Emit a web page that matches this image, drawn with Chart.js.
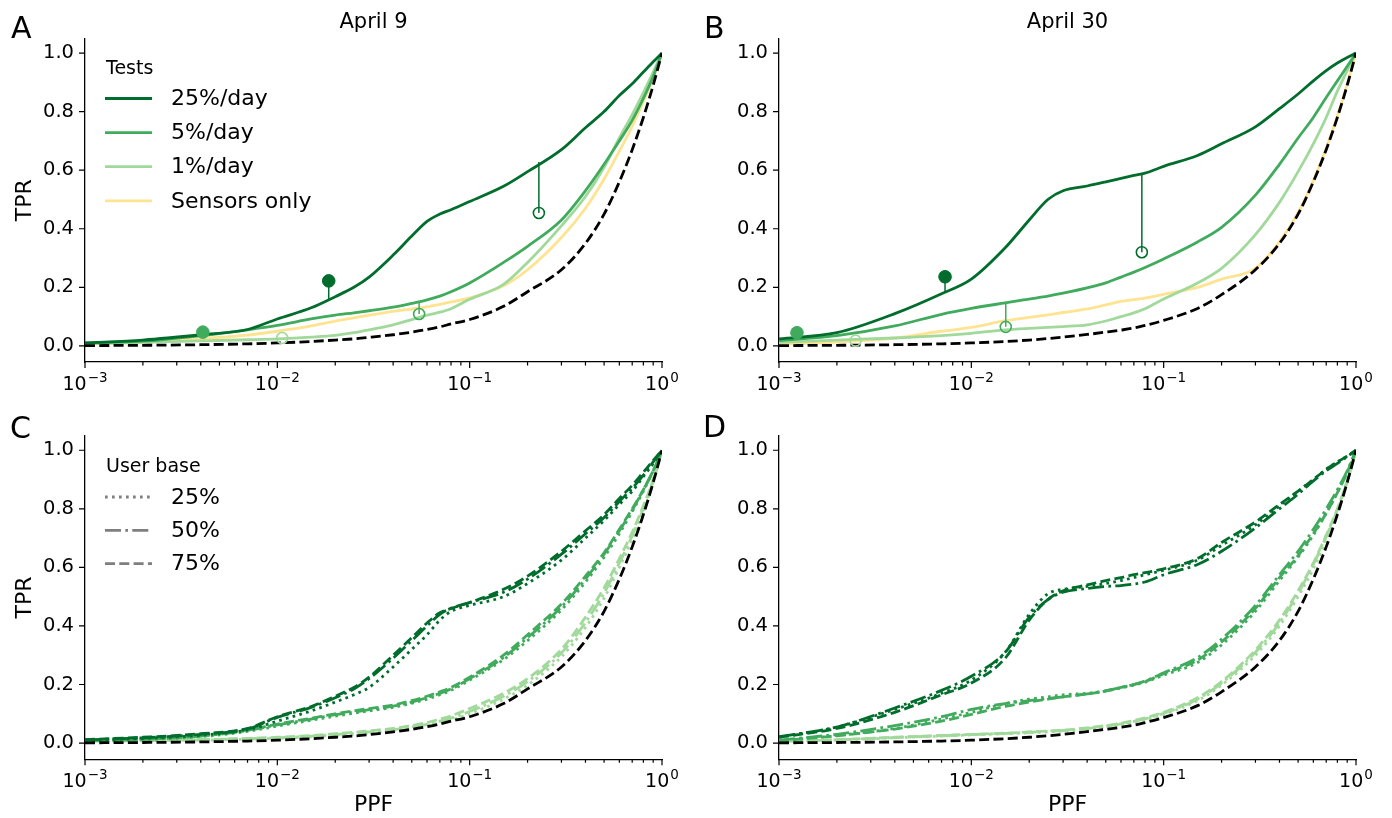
<!DOCTYPE html>
<html>
<head>
<meta charset="utf-8">
<script src="https://cdn.jsdelivr.net/npm/chart.js@4.4.1/dist/chart.umd.min.js"></script>
<style>
  body { margin: 0; background: #fff; width: 1392px; height: 818px; position: relative; overflow: hidden; }
  canvas { position: absolute; }
</style>
</head>
<body>
<canvas id="panelA" width="696" height="409" style="left:0;top:0"></canvas>
<canvas id="panelB" width="696" height="409" style="left:696px;top:0"></canvas>
<canvas id="panelC" width="696" height="409" style="left:0;top:409px"></canvas>
<canvas id="panelD" width="696" height="409" style="left:696px;top:409px"></canvas>
<script>
var ppf = [0.001, 0.002, 0.004, 0.007, 0.01, 0.015, 0.02, 0.025, 0.03, 0.04, 0.05, 0.06, 0.07, 0.08, 0.1, 0.15, 0.2, 0.3, 0.4, 0.5, 0.6, 0.7, 0.8, 0.9, 1.0];

// tick labels
var xMajor = [0.001, 0.01, 0.1, 1];
var xTickBase = '10';
var xTickExp = ['\u22123', '\u22122', '\u22121', '0'];
var xMinorSteps = [2, 3, 4, 5, 6, 7, 8, 9];
var yTicks = [0, 0.2, 0.4, 0.6, 0.8, 1.0];
var panelTitles = ['April 9', 'April 30'];
var testLabels = ['25%/day', '5%/day', '1%/day', 'Sensors only'];
var userBaseLabels = ['25%', '50%', '75%'];

// Panel A - April 9
var a25   = [0.010, 0.020, 0.038, 0.056, 0.092, 0.130, 0.168, 0.200, 0.235, 0.310, 0.375, 0.425, 0.450, 0.465, 0.493, 0.545, 0.595, 0.670, 0.745, 0.800, 0.855, 0.895, 0.935, 0.970, 1.0];
var a5    = [0.010, 0.016, 0.035, 0.055, 0.070, 0.092, 0.105, 0.113, 0.120, 0.132, 0.145, 0.157, 0.170, 0.185, 0.215, 0.285, 0.340, 0.430, 0.530, 0.620, 0.700, 0.770, 0.845, 0.920, 1.0];
var a1    = [0.008, 0.012, 0.017, 0.021, 0.024, 0.030, 0.036, 0.045, 0.055, 0.072, 0.090, 0.105, 0.115, 0.127, 0.159, 0.210, 0.285, 0.410, 0.510, 0.610, 0.710, 0.790, 0.865, 0.935, 1.0];
var aSens = [0.006, 0.012, 0.025, 0.037, 0.050, 0.068, 0.085, 0.096, 0.105, 0.118, 0.126, 0.133, 0.142, 0.150, 0.164, 0.205, 0.260, 0.370, 0.470, 0.570, 0.665, 0.750, 0.835, 0.915, 1.0];
var aRand = [0.001, 0.002, 0.004, 0.007, 0.010, 0.015, 0.020, 0.024, 0.029, 0.038, 0.047, 0.056, 0.065, 0.075, 0.090, 0.135, 0.185, 0.260, 0.350, 0.450, 0.560, 0.670, 0.780, 0.890, 1.0];
// markers: 25% filled, 5% filled, 25% open, 5% open, 1% open
var aMarkX    = [0.0185, 0.0041, 0.229, 0.0546, 0.0106];
var aMarkY    = [0.222, 0.047, 0.454, 0.109, 0.027];
var aMarkStem = [0.160, 0.036, 0.628, 0.150, 0.025];

// Panel B - April 30
var b25   = [0.024, 0.045, 0.110, 0.178, 0.228, 0.335, 0.430, 0.500, 0.530, 0.546, 0.560, 0.572, 0.582, 0.590, 0.613, 0.650, 0.690, 0.748, 0.810, 0.860, 0.905, 0.940, 0.966, 0.985, 1.0];
var b5    = [0.018, 0.035, 0.068, 0.108, 0.128, 0.147, 0.160, 0.170, 0.180, 0.198, 0.215, 0.235, 0.252, 0.268, 0.297, 0.355, 0.405, 0.515, 0.620, 0.710, 0.780, 0.848, 0.905, 0.955, 1.0];
var b1    = [0.012, 0.020, 0.027, 0.035, 0.043, 0.055, 0.060, 0.063, 0.066, 0.072, 0.085, 0.100, 0.113, 0.127, 0.160, 0.215, 0.265, 0.380, 0.490, 0.595, 0.690, 0.780, 0.870, 0.940, 1.0];
var bSens = [0.005, 0.013, 0.027, 0.050, 0.063, 0.086, 0.097, 0.106, 0.114, 0.126, 0.140, 0.152, 0.158, 0.163, 0.176, 0.200, 0.228, 0.265, 0.355, 0.455, 0.565, 0.675, 0.785, 0.893, 1.0];
var bRand = [0.001, 0.002, 0.004, 0.007, 0.010, 0.015, 0.020, 0.025, 0.030, 0.039, 0.047, 0.054, 0.061, 0.070, 0.087, 0.128, 0.175, 0.260, 0.350, 0.450, 0.560, 0.670, 0.780, 0.890, 1.0];
var bMarkX    = [0.0073, 0.00124, 0.077, 0.0151, 0.0025];
var bMarkY    = [0.236, 0.045, 0.320, 0.065, 0.018];
var bMarkStem = [0.183, 0.022, 0.588, 0.148, 0.021];

// Panel C - April 9, by user base
var cDark25  = [0.010, 0.016, 0.027, 0.045, 0.075, 0.110, 0.140, 0.165, 0.190, 0.260, 0.320, 0.370, 0.420, 0.450, 0.470, 0.500, 0.545, 0.625, 0.700, 0.760, 0.815, 0.860, 0.910, 0.955, 1.0];
var cDark50  = [0.011, 0.018, 0.030, 0.048, 0.088, 0.122, 0.155, 0.185, 0.220, 0.290, 0.350, 0.400, 0.440, 0.460, 0.480, 0.515, 0.560, 0.645, 0.715, 0.770, 0.825, 0.870, 0.915, 0.960, 1.0];
var cDark75  = [0.012, 0.020, 0.032, 0.050, 0.090, 0.125, 0.160, 0.190, 0.225, 0.300, 0.360, 0.410, 0.445, 0.460, 0.480, 0.525, 0.570, 0.655, 0.725, 0.780, 0.835, 0.880, 0.925, 0.965, 1.0];
var cMed25   = [0.008, 0.012, 0.022, 0.040, 0.058, 0.078, 0.092, 0.102, 0.110, 0.122, 0.136, 0.150, 0.165, 0.180, 0.215, 0.285, 0.350, 0.455, 0.550, 0.635, 0.715, 0.790, 0.860, 0.930, 1.0];
var cMed50   = [0.008, 0.013, 0.024, 0.043, 0.062, 0.082, 0.097, 0.106, 0.114, 0.126, 0.140, 0.155, 0.170, 0.185, 0.220, 0.292, 0.360, 0.465, 0.560, 0.645, 0.725, 0.795, 0.865, 0.930, 1.0];
var cMed75   = [0.008, 0.013, 0.025, 0.045, 0.065, 0.085, 0.100, 0.110, 0.118, 0.130, 0.145, 0.160, 0.175, 0.190, 0.225, 0.300, 0.370, 0.475, 0.570, 0.650, 0.730, 0.800, 0.865, 0.930, 1.0];
var cLight25 = [0.005, 0.008, 0.010, 0.013, 0.016, 0.021, 0.026, 0.030, 0.034, 0.042, 0.050, 0.059, 0.069, 0.078, 0.100, 0.150, 0.198, 0.295, 0.395, 0.495, 0.600, 0.695, 0.790, 0.890, 1.0];
var cLight50 = [0.006, 0.008, 0.011, 0.015, 0.018, 0.024, 0.029, 0.034, 0.038, 0.046, 0.055, 0.064, 0.075, 0.085, 0.108, 0.160, 0.210, 0.308, 0.412, 0.512, 0.615, 0.708, 0.800, 0.895, 1.0];
var cLight75 = [0.006, 0.009, 0.012, 0.016, 0.020, 0.026, 0.032, 0.037, 0.042, 0.050, 0.060, 0.070, 0.082, 0.093, 0.118, 0.170, 0.220, 0.320, 0.430, 0.530, 0.630, 0.720, 0.810, 0.900, 1.0];

// Panel D - April 30, by user base
var dDark25  = [0.020, 0.055, 0.115, 0.170, 0.215, 0.310, 0.440, 0.510, 0.525, 0.535, 0.545, 0.555, 0.565, 0.575, 0.590, 0.625, 0.675, 0.745, 0.810, 0.860, 0.900, 0.935, 0.960, 0.980, 1.0];
var dDark50  = [0.022, 0.055, 0.120, 0.180, 0.228, 0.310, 0.430, 0.490, 0.515, 0.528, 0.535, 0.538, 0.543, 0.550, 0.575, 0.610, 0.655, 0.735, 0.800, 0.850, 0.895, 0.930, 0.955, 0.978, 1.0];
var dDark75  = [0.020, 0.050, 0.105, 0.165, 0.205, 0.290, 0.420, 0.490, 0.520, 0.540, 0.555, 0.565, 0.575, 0.582, 0.595, 0.630, 0.685, 0.755, 0.815, 0.860, 0.900, 0.935, 0.960, 0.980, 1.0];
var dMed25   = [0.008, 0.026, 0.050, 0.082, 0.105, 0.135, 0.150, 0.158, 0.165, 0.170, 0.178, 0.188, 0.198, 0.208, 0.232, 0.275, 0.335, 0.450, 0.555, 0.635, 0.710, 0.785, 0.855, 0.925, 1.0];
var dMed50   = [0.010, 0.030, 0.060, 0.090, 0.115, 0.135, 0.145, 0.152, 0.158, 0.168, 0.178, 0.190, 0.200, 0.212, 0.240, 0.292, 0.355, 0.470, 0.575, 0.655, 0.730, 0.800, 0.865, 0.930, 1.0];
var dMed75   = [0.008, 0.025, 0.048, 0.075, 0.098, 0.125, 0.140, 0.150, 0.158, 0.168, 0.178, 0.190, 0.200, 0.210, 0.237, 0.283, 0.345, 0.460, 0.565, 0.640, 0.715, 0.785, 0.855, 0.925, 1.0];
var dLight25 = [0.004, 0.010, 0.018, 0.024, 0.028, 0.032, 0.035, 0.038, 0.041, 0.048, 0.055, 0.063, 0.071, 0.080, 0.098, 0.145, 0.198, 0.300, 0.400, 0.500, 0.595, 0.695, 0.790, 0.890, 1.0];
var dLight50 = [0.005, 0.011, 0.019, 0.025, 0.029, 0.033, 0.037, 0.040, 0.043, 0.050, 0.058, 0.066, 0.074, 0.083, 0.102, 0.150, 0.205, 0.310, 0.410, 0.512, 0.610, 0.705, 0.795, 0.893, 1.0];
var dLight75 = [0.005, 0.012, 0.020, 0.026, 0.030, 0.034, 0.038, 0.041, 0.044, 0.052, 0.060, 0.068, 0.077, 0.086, 0.105, 0.155, 0.210, 0.318, 0.420, 0.520, 0.615, 0.710, 0.800, 0.895, 1.0];

// styles
var DARK = '#006d2c', MED = '#41ab5d', LIGHT = '#a1d99b', YELLOW = '#fee391', GREY = '#7f7f7f';
var DOT = [2.7, 4.3], DASHDOT = [16, 4.3, 2.7, 4.3], DASH = [10, 4.3];
var LW = 2.8;
var FONT = 'DejaVu Sans';
Chart.defaults.font.family = FONT;
Chart.defaults.color = '#000';

function curve(ys, color, dash, order, width) {
    return {
        data: ppf.map((x, i) => ({ x: x, y: ys[i] })),
        borderColor: color,
        borderWidth: width || LW,
        borderDash: dash || [],
        pointRadius: 0,
        fill: false,
        cubicInterpolationMode: 'monotone',
        order: order == null ? 3 : order
    };
}

// markers with the stem to the curve
function markers(xs, ys, stems) {
    var colors = [DARK, MED, DARK, MED, LIGHT];
    var filled = [true, true, false, false, false];
    var out = [];
    xs.forEach(function (x, i) {
        out.push({
            data: [{ x: x, y: stems[i] }, { x: x, y: ys[i] }],
            borderColor: colors[i], borderWidth: 1.5, pointRadius: 0, order: 1
        });
        out.push({
            data: [{ x: x, y: ys[i] }],
            showLine: false,
            pointRadius: filled[i] ? 6.3 : 5.5,
            pointBackgroundColor: filled[i] ? colors[i] : 'rgba(255,255,255,0)',
            pointBorderColor: colors[i],
            pointBorderWidth: filled[i] ? 1 : 1.6,
            order: 0
        });
    });
    return out;
}

var decoCfg = {};

var decoPlugin = {
    id: 'deco',
    afterDraw: function (chart) {
        var o = decoCfg[chart.canvas.id];
        var ctx = chart.ctx, ca = chart.chartArea, xs = chart.scales.x, ys = chart.scales.y;
        ctx.save();
        // tick marks
        ctx.strokeStyle = '#000';
        ctx.lineWidth = 1.2;
        ctx.beginPath();
        xs.ticks.forEach(function (t) {
            var px = xs.getPixelForValue(t.value);
            var len = t.major ? 6 : 3.5;
            ctx.moveTo(px, ca.bottom);
            ctx.lineTo(px, ca.bottom + len);
        });
        ys.ticks.forEach(function (t) {
            var py = ys.getPixelForValue(t.value);
            ctx.moveTo(ca.left - 6, py);
            ctx.lineTo(ca.left, py);
        });
        ctx.stroke();

        // x tick labels: 10 with a raised exponent
        ctx.fillStyle = '#000';
        ctx.textBaseline = 'alphabetic';
        ctx.textAlign = 'left';
        xMajor.forEach(function (m, i) {
            var px = xs.getPixelForValue(m);
            ctx.font = '19px "' + FONT + '"';
            var wb = ctx.measureText(xTickBase).width;
            ctx.font = '13.5px "' + FONT + '"';
            var we = ctx.measureText(xTickExp[i]).width;
            var x0 = px - (wb + we + 1) / 2;
            var base = ca.bottom + 28;
            ctx.font = '19px "' + FONT + '"';
            ctx.fillText(xTickBase, x0, base);
            ctx.font = '13.5px "' + FONT + '"';
            ctx.fillText(xTickExp[i], x0 + wb + 1, base - 8);
        });

        ctx.font = '30px "' + FONT + '"';
        ctx.fillText(o.letter, o.letterX, o.letterY);

        if (o.title) {
            ctx.font = '21px "' + FONT + '"';
            ctx.textAlign = 'center';
            ctx.fillText(o.title, (ca.left + ca.right) / 2, 28);
        }

        if (o.legend) {
            var lg = o.legend;
            ctx.textAlign = 'left';
            ctx.font = '19px "' + FONT + '"';
            ctx.fillText(lg.title, 106, lg.titleY);
            ctx.font = '22px "' + FONT + '"';
            ctx.textBaseline = 'middle';
            lg.labels.forEach(function (label, i) {
                var y = lg.firstY + i * lg.step;
                ctx.save();
                ctx.strokeStyle = lg.colors[i];
                ctx.lineWidth = LW;
                ctx.setLineDash(lg.dashes[i]);
                ctx.beginPath();
                ctx.moveTo(105, y);
                ctx.lineTo(152, y);
                ctx.stroke();
                ctx.restore();
                ctx.fillText(label, 171, y + 1);
            });
        }
        ctx.restore();
    }
};

function makePanel(id, datasets, box) {
    return new Chart(document.getElementById(id), {
        type: 'line',
        data: { datasets: datasets },
        plugins: [decoPlugin],
        options: {
            responsive: false,
            devicePixelRatio: 1,
            animation: false,
            events: [],
            layout: { padding: { top: box.top, right: box.right, left: 0, bottom: 0 } },
            plugins: { legend: { display: false }, tooltip: { enabled: false } },
            scales: {
                x: {
                    type: 'logarithmic',
                    min: 0.001,
                    max: 1,
                    afterBuildTicks: function (s) {
                        var t = [];
                        xMajor.forEach(function (m, i) {
                            t.push({ value: m, major: true });
                            if (i < xMajor.length - 1) {
                                xMinorSteps.forEach(function (k) { t.push({ value: m * k, major: false }); });
                            }
                        });
                        s.ticks = t;
                    },
                    afterFit: function (s) { s.height = box.xAxisH; },
                    grid: { display: false, drawTicks: false },
                    border: { display: true, color: '#000', width: 1.3 },
                    ticks: { autoSkip: false, maxRotation: 0, callback: function () { return ''; } },
                    title: { display: !!box.xTitle, text: box.xTitle, font: { size: 22 }, color: '#000', padding: { top: 0, bottom: 0 } }
                },
                y: {
                    min: -0.055,
                    max: 1.05,
                    afterBuildTicks: function (s) { s.ticks = yTicks.map(function (v) { return { value: v }; }); },
                    afterFit: function (s) { s.width = box.left; },
                    grid: { display: false, drawTicks: false },
                    border: { display: true, color: '#000', width: 1.3 },
                    ticks: {
                        padding: 11,
                        font: { size: 19.5 },
                        color: '#000',
                        callback: function (v) { return v.toFixed(1); }
                    },
                    title: { display: !!box.yTitle, text: box.yTitle, font: { size: 22 }, color: '#000', padding: { top: 12, bottom: 0 } }
                }
            }
        }
    });
}

decoCfg.panelA = {
    letter: 'A', letterX: 11, letterY: 38, title: panelTitles[0],
    legend: { title: 'Tests', titleY: 74, labels: testLabels, firstY: 98.5, step: 34.1,
              colors: [DARK, MED, LIGHT, YELLOW], dashes: [[], [], [], []] }
};
decoCfg.panelB = { letter: 'B', letterX: 8, letterY: 38, title: panelTitles[1] };
decoCfg.panelC = {
    letter: 'C', letterX: 10, letterY: 29,
    legend: { title: 'User base', titleY: 62.5, labels: userBaseLabels, firstY: 88, step: 33.3,
              colors: [GREY, GREY, GREY], dashes: [DOT, DASHDOT, DASH] }
};
decoCfg.panelD = { letter: 'D', letterX: 7, letterY: 28 };

makePanel('panelA', [
    curve(aRand, '#000', DASH, 2),
    curve(a25, DARK), curve(a5, MED), curve(a1, LIGHT), curve(aSens, YELLOW, null, 4)
].concat(markers(aMarkX, aMarkY, aMarkStem)),
    { top: 38.4, right: 34, left: 85, xAxisH: 47, yTitle: 'TPR' });

makePanel('panelB', [
    curve(bRand, '#000', DASH, 2),
    curve(b25, DARK), curve(b5, MED), curve(b1, LIGHT), curve(bSens, YELLOW, null, 4)
].concat(markers(bMarkX, bMarkY, bMarkStem)),
    { top: 38.4, right: 36, left: 83, xAxisH: 47 });

makePanel('panelC', [
    curve(aRand, '#000', DASH, 2),
    curve(cDark25, DARK, DOT), curve(cDark50, DARK, DASHDOT), curve(cDark75, DARK, DASH),
    curve(cMed25, MED, DOT), curve(cMed50, MED, DASHDOT), curve(cMed75, MED, DASH),
    curve(cLight25, LIGHT, DOT), curve(cLight50, LIGHT, DASHDOT), curve(cLight75, LIGHT, DASH)
], { top: 26.6, right: 34, left: 85, xAxisH: 58.8, yTitle: 'TPR', xTitle: 'PPF' });

makePanel('panelD', [
    curve(bRand, '#000', DASH, 2),
    curve(dDark25, DARK, DOT), curve(dDark50, DARK, DASHDOT), curve(dDark75, DARK, DASH),
    curve(dMed25, MED, DOT), curve(dMed50, MED, DASHDOT), curve(dMed75, MED, DASH),
    curve(dLight25, LIGHT, DOT), curve(dLight50, LIGHT, DASHDOT), curve(dLight75, LIGHT, DASH)
], { top: 26.6, right: 36, left: 83, xAxisH: 58.8, xTitle: 'PPF' });
</script>
</body>
</html>
